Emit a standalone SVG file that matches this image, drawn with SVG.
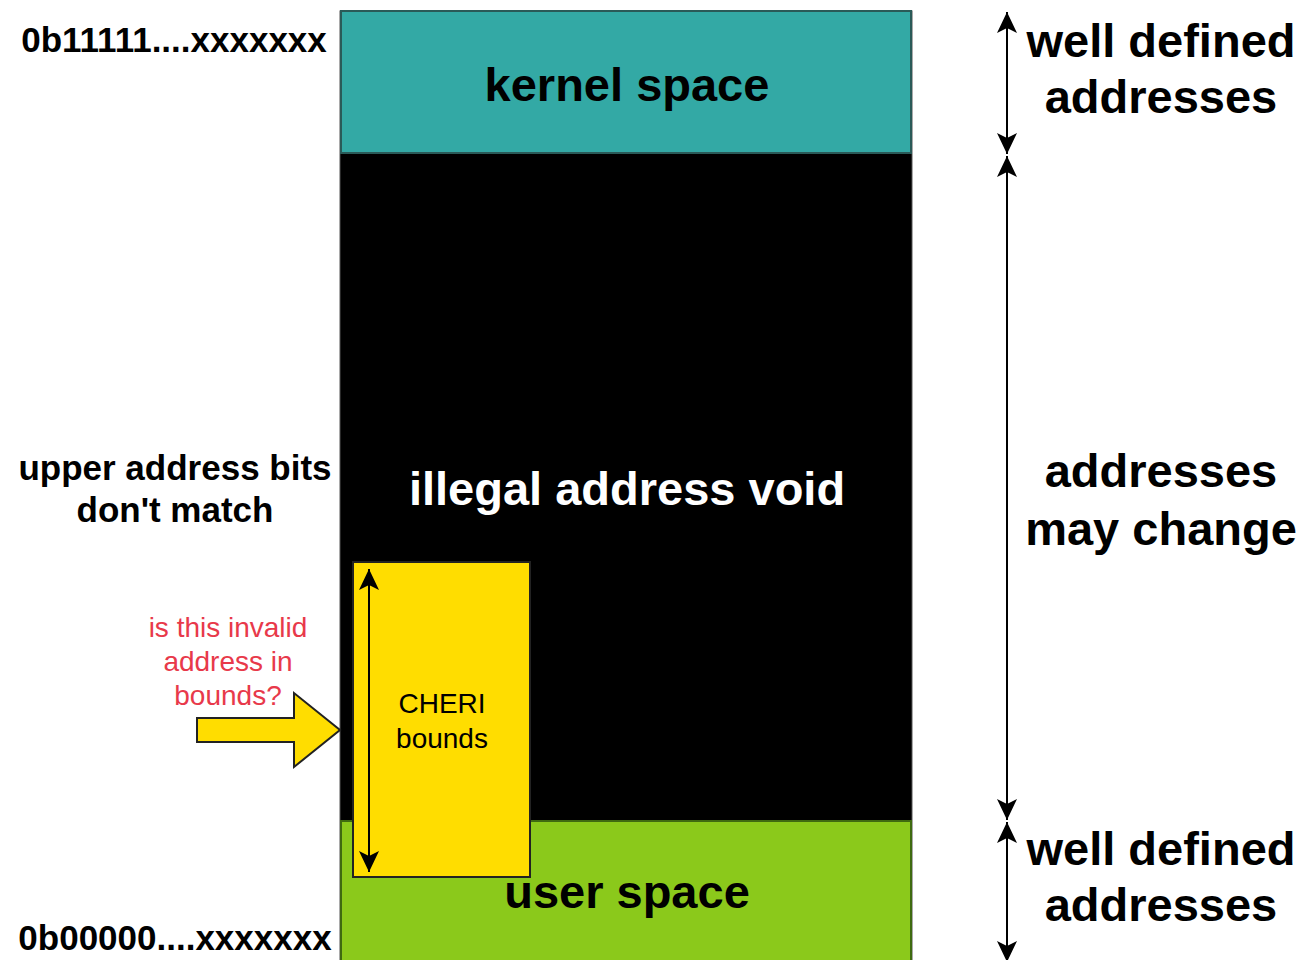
<svg xmlns="http://www.w3.org/2000/svg" width="1304" height="960" viewBox="0 0 1304 960">
<style>
.b{font-family:"Liberation Sans",Arial,sans-serif;font-weight:bold;fill:#000;text-anchor:middle}
.big{font-size:47px}
.mid{font-size:35px}
.r{font-family:"Liberation Sans",Arial,sans-serif;font-size:28px;text-anchor:middle}
.dim{stroke:#000;stroke-width:2;fill:none;marker-start:url(#ah);marker-end:url(#ah)}
</style>
<defs>
<marker id="ah" markerUnits="userSpaceOnUse" markerWidth="24" markerHeight="24" viewBox="-22 -11 24 22" refX="0" refY="0" orient="auto-start-reverse">
<path d="M0,0 L-21,-10 L-16,0 L-21,10 Z" fill="#000"/>
</marker>
</defs>
<rect width="1304" height="960" fill="#fff"/>
<g id="void">
<rect x="340" y="11" width="572" height="960" fill="#000" stroke="#555" stroke-width="1"/>
<text class="b big" x="627" y="505" fill="#fff" style="fill:#fff">illegal address void</text>
</g>
<g id="kernel">
<rect x="341" y="11" width="570" height="142" fill="#33A9A5" stroke="#2a5a58" stroke-width="2"/>
<text class="b big" x="627" y="101">kernel space</text>
</g>
<g id="user">
<rect x="341" y="821" width="570" height="150" fill="#8BC91B" stroke="#3f6a10" stroke-width="2"/>
<text class="b big" x="627" y="908">user space</text>
</g>
<g id="cheri">
<rect x="353" y="562" width="177" height="315" fill="#FFDD00" stroke="#222" stroke-width="2"/>
<text class="r" x="442" y="713">CHERI</text>
<text class="r" x="442" y="748">bounds</text>
</g>
<g id="labels">
<text class="b mid" x="174" y="52">0b11111....xxxxxxx</text>
<text class="b mid" x="175" y="480">upper address bits</text>
<text class="b mid" x="175" y="522">don't match</text>
<text class="b mid" x="175" y="950">0b00000....xxxxxxx</text>
<text class="r" x="228" y="637" fill="#E8394A">is this invalid</text>
<text class="r" x="228" y="671" fill="#E8394A">address in</text>
<text class="r" x="228" y="705" fill="#E8394A">bounds?</text>
<text class="b big" x="1161" y="57">well defined</text>
<text class="b big" x="1161" y="113">addresses</text>
<text class="b big" x="1161" y="487">addresses</text>
<text class="b big" x="1161" y="545">may change</text>
<text class="b big" x="1161" y="865">well defined</text>
<text class="b big" x="1161" y="921">addresses</text>
</g>
<g id="pointer">
<path d="M197,718 L294,718 L294,693 L340,730 L294,767 L294,742 L197,742 Z" fill="#FFDD00" stroke="#222" stroke-width="2" stroke-linejoin="miter"/>
</g>
<g id="connectors">
<line class="dim" x1="369" y1="569" x2="369" y2="872"/>
<line class="dim" x1="1007" y1="12" x2="1007" y2="154"/>
<line class="dim" x1="1007" y1="156" x2="1007" y2="820"/>
<line class="dim" x1="1007" y1="822" x2="1007" y2="962"/>
</g>
</svg>
